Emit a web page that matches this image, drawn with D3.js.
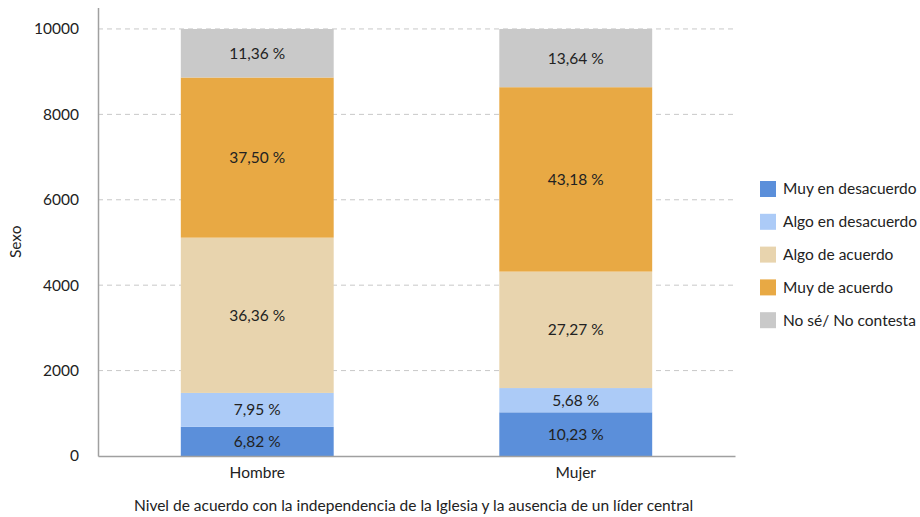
<!DOCTYPE html>
<html>
<head>
<meta charset="utf-8">
<script src="https://cdn.jsdelivr.net/npm/d3@7"></script>
<style>
  body { margin: 0; background: #fff; }
  svg { font-family: Lato, "Open Sans", sans-serif; }
</style>
</head>
<body>
<div id="chart"></div>
<script>
var categories = ["Hombre", "Mujer"];
var seriesNames = ["Muy en desacuerdo", "Algo en desacuerdo", "Algo de acuerdo", "Muy de acuerdo", "No sé/ No contesta"];
var seriesColors = ["#5b8fda", "#accbf7", "#e8d4ae", "#e8a944", "#c9c9c9"];
// percentages per series, one value per category
var muyEnDesacuerdo = [6.82, 10.23];
var algoEnDesacuerdo = [7.95, 5.68];
var algoDeAcuerdo = [36.36, 27.27];
var muyDeAcuerdo = [37.50, 43.18];
var noSe = [11.36, 13.64];
var yTicks = [0, 2000, 4000, 6000, 8000, 10000];

var w = 920, h = 517;
var mLeft = 98, mRight = 735, mTop = 7.6, mBottom = 456;
var fs = "15.5px";

var series = [muyEnDesacuerdo, algoEnDesacuerdo, algoDeAcuerdo, muyDeAcuerdo, noSe];
var rows = categories.map(function(c, i) {
    var r = { cat: c };
    seriesNames.forEach(function(s, j) { r[s] = series[j][i] * 100; });
    return r;
});
var stacked = d3.stack().keys(seriesNames)(rows);

var x = d3.scaleBand().domain(categories).range([mLeft, mRight])
    .paddingInner(0.52).paddingOuter(0.26);
var y = d3.scaleLinear().domain([0, 10500]).range([mBottom, mTop]);

var svg = d3.select("#chart").append("svg")
    .attr("width", w).attr("height", h);

// grid
svg.append("g").selectAll("line")
    .data(yTicks.filter(function(t) { return t > 0; }))
    .enter().append("line")
    .attr("x1", mLeft).attr("x2", mRight)
    .attr("y1", function(d) { return y(d); })
    .attr("y2", function(d) { return y(d); })
    .attr("stroke", "#c8c8c8")
    .attr("stroke-dasharray", "5,4")
    .attr("stroke-width", 1);

var layer = svg.selectAll("g.layer")
    .data(stacked)
    .enter().append("g")
    .attr("class", "layer")
    .attr("fill", function(d, i) { return seriesColors[i]; });

layer.selectAll("rect")
    .data(function(d) { return d; })
    .enter().append("rect")
    .attr("x", function(d) { return x(d.data.cat); })
    .attr("width", x.bandwidth())
    .attr("y", function(d) { return y(d[1]); })
    .attr("height", function(d) { return y(d[0]) - y(d[1]); });

layer.selectAll("text")
    .data(function(d) { return d; })
    .enter().append("text")
    .attr("x", function(d) { return x(d.data.cat) + x.bandwidth() / 2; })
    .attr("y", function(d) { return (y(d[0]) + y(d[1])) / 2; })
    .attr("dy", "0.35em")
    .attr("text-anchor", "middle")
    .attr("font-size", fs)
    .attr("fill", "#222")
    .text(function(d) {
        return d3.format(".2f")((d[1] - d[0]) / 100).replace(".", ",") + " %";
    });

// y axis
var yAxis = svg.append("g")
    .attr("transform", "translate(" + mLeft + ",0)")
    .call(d3.axisLeft(y).tickValues(yTicks).tickSize(0).tickPadding(19).tickFormat(d3.format("d")));
yAxis.select(".domain").attr("stroke", "#a0a0a0").attr("stroke-width", 1.5);
yAxis.selectAll("text").attr("font-size", fs).attr("fill", "#222").attr("font-family", "Lato, sans-serif");

// x axis
var xAxis = svg.append("g")
    .attr("transform", "translate(0," + mBottom + ")")
    .call(d3.axisBottom(x).tickSize(0).tickPadding(11));
xAxis.select(".domain").attr("stroke", "#a0a0a0").attr("stroke-width", 1.5);
xAxis.selectAll("text").attr("font-size", fs).attr("fill", "#222").attr("font-family", "Lato, sans-serif");

svg.append("text")
    .attr("transform", "translate(21," + ((mTop + mBottom) / 2 + 10) + ")rotate(-90)")
    .attr("text-anchor", "middle")
    .attr("font-size", fs)
    .attr("fill", "#222")
    .text("Sexo");

svg.append("text")
    .attr("x", (mLeft + mRight) / 2 - 3)
    .attr("y", 511)
    .attr("text-anchor", "middle")
    .attr("font-size", fs)
    .attr("fill", "#222")
    .text("Nivel de acuerdo con la independencia de la Iglesia y la ausencia de un líder central");

// legend
var legend = svg.append("g").selectAll("g")
    .data(seriesNames)
    .enter().append("g")
    .attr("transform", function(d, i) { return "translate(760," + (181 + i * 32.8) + ")"; });
legend.append("rect")
    .attr("width", 16).attr("height", 16)
    .attr("fill", function(d, i) { return seriesColors[i]; });
legend.append("text")
    .attr("x", 23).attr("y", 8).attr("dy", "0.35em")
    .attr("font-size", fs)
    .attr("fill", "#222")
    .text(function(d) { return d; });
</script>
</body>
</html>
